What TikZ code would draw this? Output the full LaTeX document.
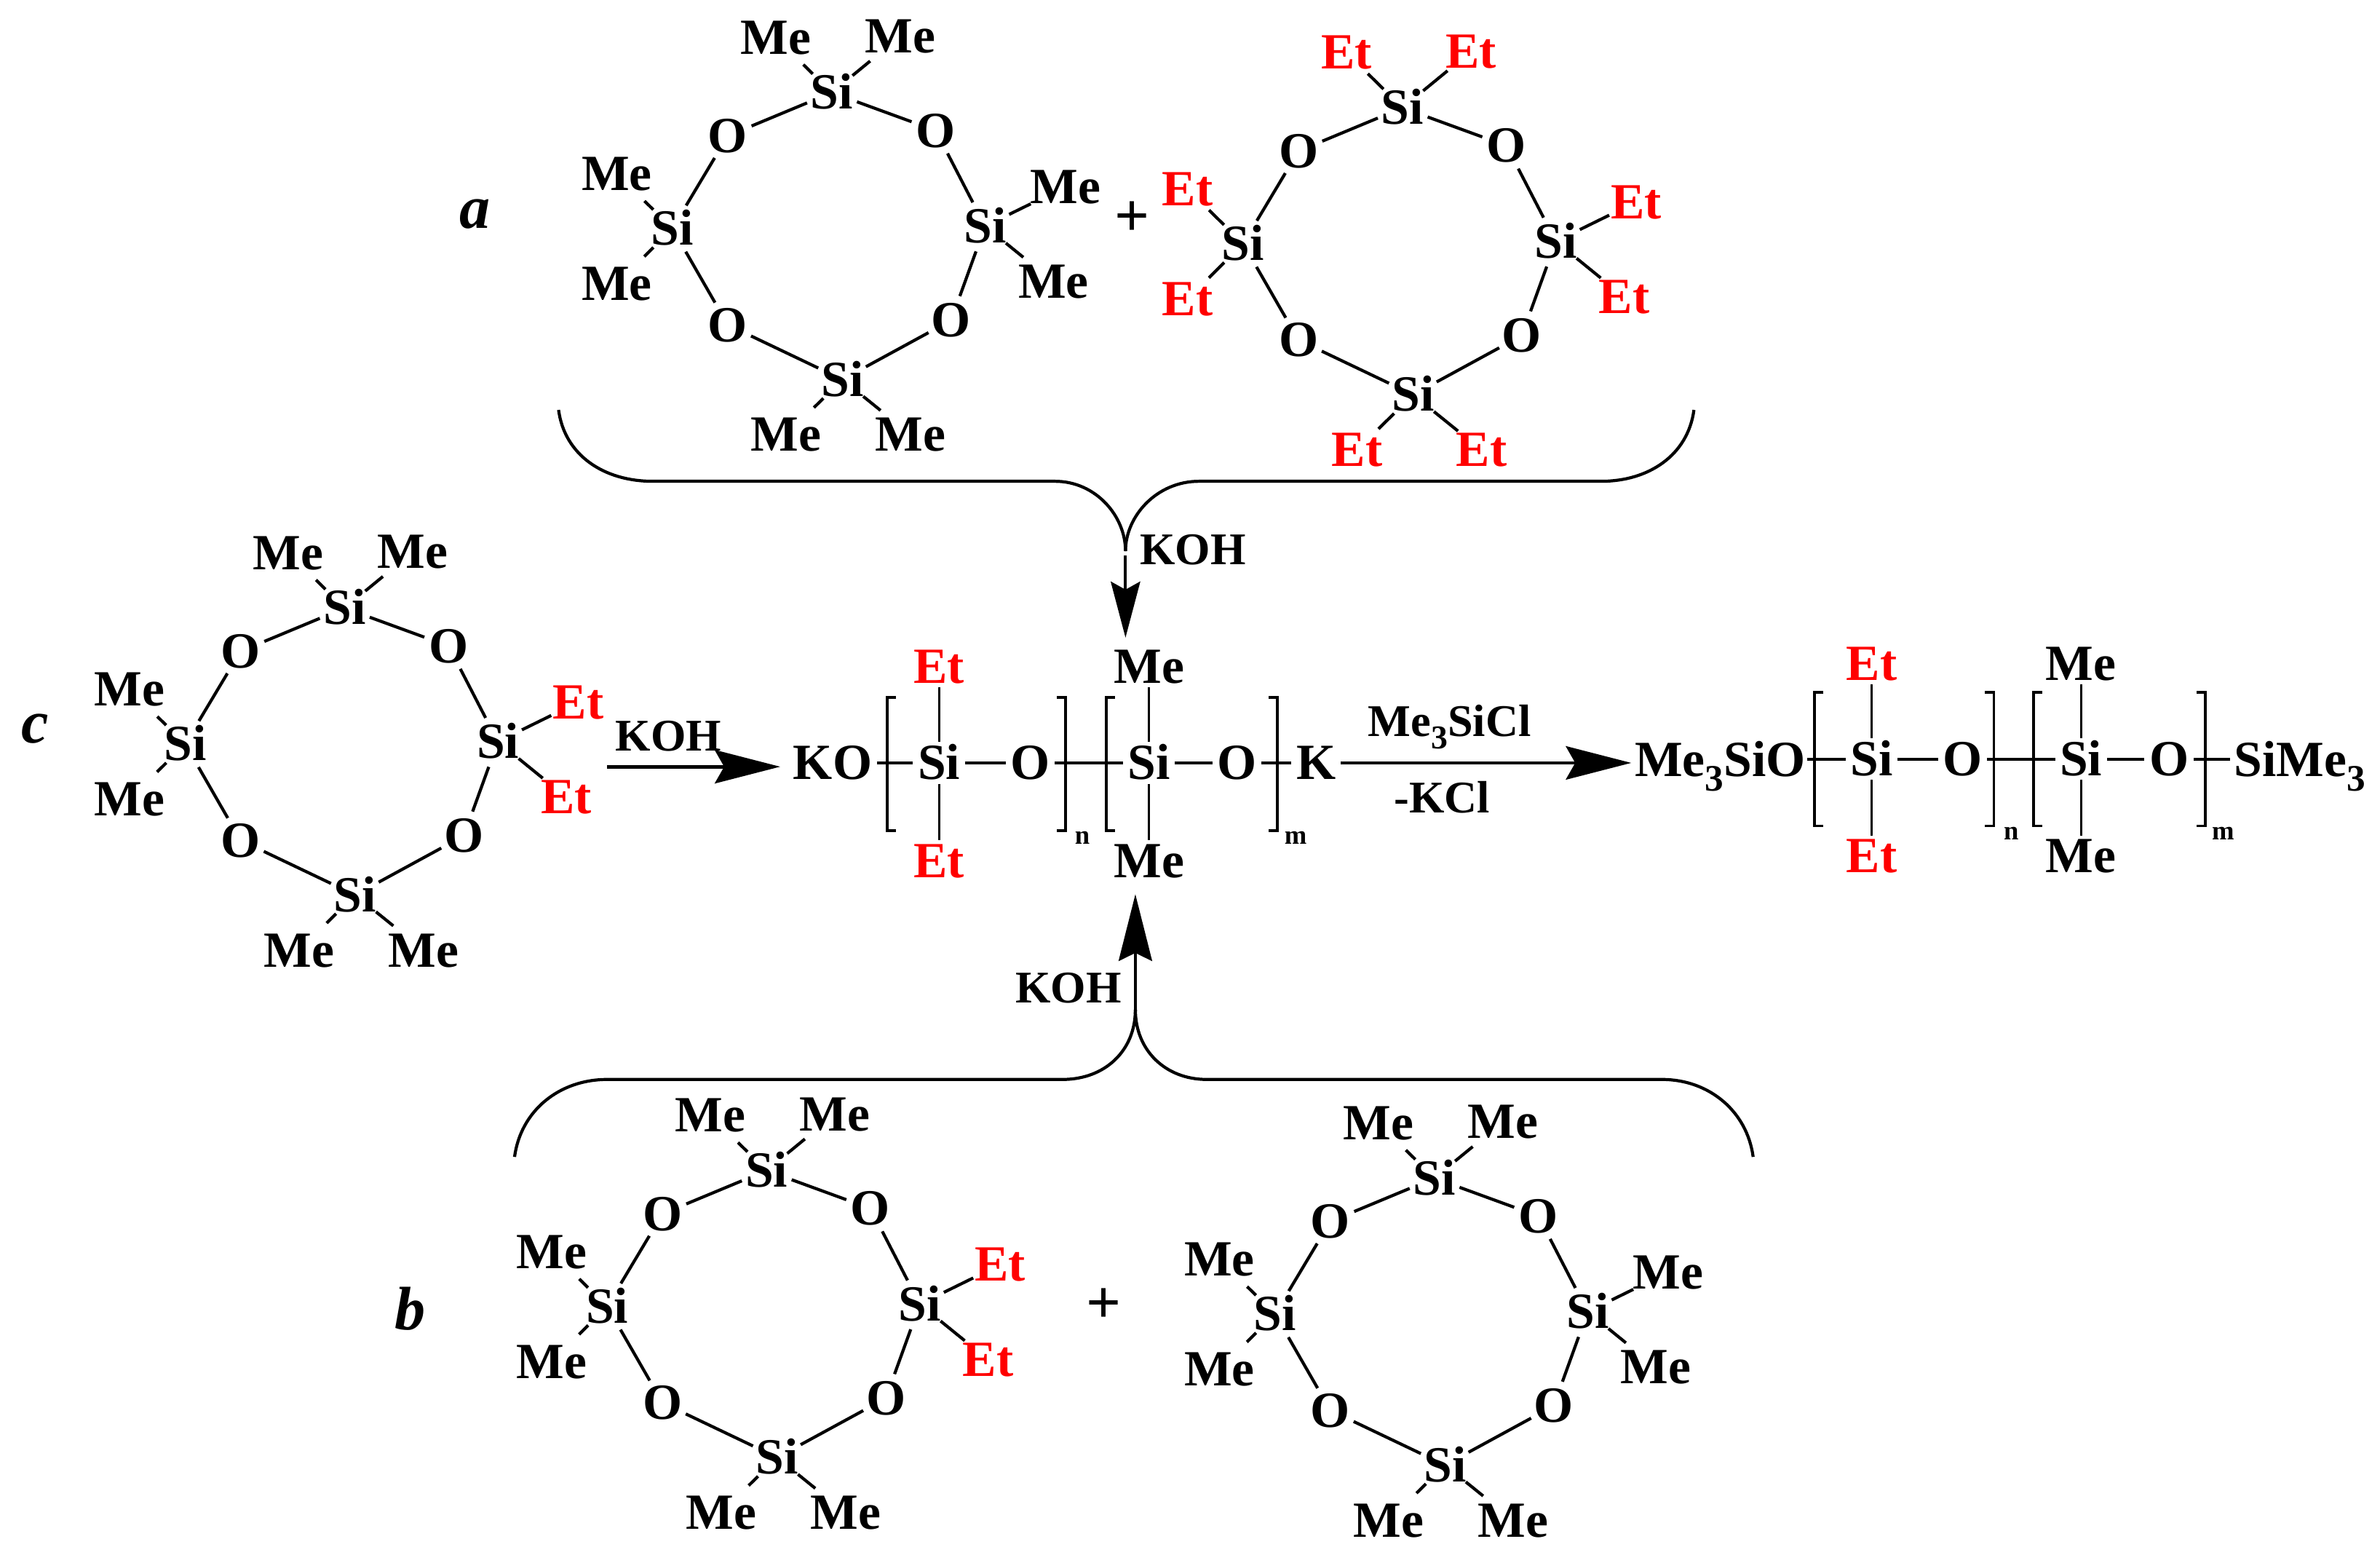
\documentclass[tikz,border=0pt]{standalone}
\usepackage{fontspec}
\setmainfont{Liberation Serif}
\usetikzlibrary{arrows.meta}
\newcommand{\Mx}{Me}
\newcommand{\Ex}{\textcolor{red}{Et}}
\newcommand{\sbb}[1]{\raisebox{-0.28em}{\fontsize{14}{14}\selectfont #1}}
\newcommand{\sbc}[1]{\raisebox{-0.28em}{\fontsize{12.5}{12.5}\selectfont #1}}
\tikzset{
  atom/.style={circle,inner sep=0pt,outer sep=0pt,font=\fontsize{19}{19}\selectfont\bfseries,text height=12.4pt,text depth=0pt},
  chain/.style={rectangle,inner xsep=1.8pt,inner ysep=1.6pt,outer sep=0pt,font=\fontsize{19}{19}\selectfont\bfseries,text height=12.4pt,text depth=0pt},
  plain/.style={inner sep=0pt,outer sep=0pt,font=\fontsize{19}{19}\selectfont\bfseries},
  reagent/.style={inner sep=0pt,outer sep=0pt,font=\fontsize{17}{17}\selectfont\bfseries},
  plussign/.style={inner sep=0pt,outer sep=0pt,font=\fontsize{23}{23}\selectfont\bfseries},
  subidx/.style={inner sep=0pt,font=\fontsize{10}{10}\selectfont\bfseries},
  panel/.style={inner sep=0pt,font=\fontsize{23}{23}\selectfont\bfseries\itshape},
  bond/.style={line width=1.15pt},
  mainbond/.style={line width=1.05pt},
  thinbond/.style={line width=0.85pt},
  bracket/.style={line width=1.05pt},
  brace/.style={line width=1.15pt},
  bigarrow/.style={line width=1.3pt,-{Stealth[length=24.5pt,width=12.5pt,inset=3.5pt]}},
  uparrow/.style={line width=1.15pt,-{Stealth[length=25pt,width=12.5pt,inset=3pt]}},
  downarrow/.style={line width=1.15pt,-{Stealth[length=21pt,width=11pt,inset=3pt]}},
}
\newcommand{\siloxring}[7]{%
\begin{scope}[shift={(#2,#3)}]
  \node[atom] (#1s1) at (548,61) {Si};
  \node[atom] (#1s2) at (649,149) {Si};
  \node[atom] (#1s3) at (555,250) {Si};
  \node[atom] (#1s4) at (443,150.5) {Si};
  \node[atom] (#1o1) at (616.5,86) {O};
  \node[atom] (#1o2) at (626.6,211) {O};
  \node[atom] (#1o3) at (479.5,214) {O};
  \node[atom] (#1o4) at (479.5,89.5) {O};
  \node[atom] (#1a) at (511,24.6) {#4};
  \node[atom] (#1b) at (593,24) {#4};
  \node[atom] (#1c) at (702,123) {#6};
  \node[atom] (#1d) at (694,185.6) {#6};
  \node[atom] (#1e) at (518,286.4) {#7};
  \node[atom] (#1f) at (600,286.4) {#7};
  \node[atom] (#1g) at (406.4,114.5) {#5};
  \node[atom] (#1h) at (406.4,187) {#5};
  \draw[bond] (#1s1)--(#1o1) (#1o1)--(#1s2) (#1s2)--(#1o2) (#1o2)--(#1s3)
              (#1s3)--(#1o3) (#1o3)--(#1s4) (#1s4)--(#1o4) (#1o4)--(#1s1);
  \draw[bond] (#1s1)--(#1a) (#1s1)--(#1b) (#1s2)--(#1c) (#1s2)--(#1d)
              (#1s3)--(#1e) (#1s3)--(#1f) (#1s4)--(#1g) (#1s4)--(#1h);
\end{scope}}
\newcommand{\bracketL}[3]{\draw[bracket] (#1+5.8,#2) -- (#1,#2) -- (#1,#3) -- (#1+5.8,#3);}
\newcommand{\bracketR}[3]{\draw[bracket] (#1-5.8,#2) -- (#1,#2) -- (#1,#3) -- (#1-5.8,#3);}
\begin{document}
\begin{tikzpicture}[x=0.02cm,y=-0.02cm]
\useasboundingbox (0,0) rectangle (1568,1024);
\fill[white] (0,0) rectangle (1568,1024);
% rings
\siloxring{ra}{0}{0}{\Mx}{\Mx}{\Mx}{\Mx}
\siloxring{rb}{376}{10}{\Ex}{\Ex}{\Ex}{\Ex}
\siloxring{rc}{-321}{339.5}{\Mx}{\Mx}{\Ex}{\Mx}
\siloxring{rd}{-43}{710}{\Mx}{\Mx}{\Ex}{\Mx}
\siloxring{re}{397}{715}{\Mx}{\Mx}{\Mx}{\Mx}
% panel labels and plus signs
\node[panel] (la) at (313,141) {a};
\node[panel] (lb) at (270,862) {b};
\node[panel] (lc) at (23,480) {c};
\node[plussign] (pa) at (746,144) {+};
\node[plussign] (pb) at (727,860) {+};
% first chain
\node[chain] (ko) at (548.6,502.5) {KO};
\node[chain] (cs1) at (618.6,502.5) {Si};
\node[chain] (co1) at (678.8,502.5) {O};
\node[chain] (cs2) at (757,502.5) {Si};
\node[chain] (co2) at (815,502.5) {O};
\node[chain] (ck) at (867,502.5) {K};
\node[chain] (cet1) at (618.6,439) {\Ex};
\node[chain] (cet2) at (618.6,567) {\Ex};
\node[chain] (cme1) at (757,439) {Me};
\node[chain] (cme2) at (757,567) {Me};
\draw[mainbond] (ko)--(cs1) (cs1)--(co1) (co1)--(cs2) (cs2)--(co2) (co2)--(ck);
\draw[thinbond] (cs1)--(cet1) (cs1)--(cet2) (cs2)--(cme1) (cs2)--(cme2);
\bracketL{584.5}{459.5}{547}
\bracketR{702}{459.5}{547}
\bracketL{728.7}{459.5}{547}
\bracketR{841.6}{459.5}{547}
\node[subidx] (n1) at (713,552) {n};
\node[subidx] (m1) at (853.6,552) {m};
% second chain
\node[plain,anchor=base west] (tm) at (1077,511.5) {Me\sbb{3}SiO};
\node[chain] (ds1) at (1233,500) {Si};
\node[chain] (do1) at (1293,500) {O};
\node[chain] (ds2) at (1371,500) {Si};
\node[chain] (do2) at (1429,500) {O};
\node[plain,anchor=base west] (sm) at (1472,511.5) {SiMe\sbb{3}};
\node[chain] (det1) at (1233,437) {\Ex};
\node[chain] (det2) at (1233,564) {\Ex};
\node[chain] (dme1) at (1371,437) {Me};
\node[chain] (dme2) at (1371,564) {Me};
\draw[mainbond] (tm.east |- ds1)++(1,0)--(ds1);
\draw[mainbond] (ds1)--(do1) (do1)--(ds2) (ds2)--(do2);
\draw[mainbond] (do2)--([xshift=-1.5pt]sm.west |- do2);
\draw[thinbond] (ds1)--(det1) (ds1)--(det2) (ds2)--(dme1) (ds2)--(dme2);
\bracketL{1195.5}{456}{544}
\bracketR{1313.6}{456}{544}
\bracketL{1339.8}{456}{544}
\bracketR{1453}{456}{544}
\node[subidx] (n2) at (1325,549) {n};
\node[subidx] (m2) at (1464.6,549) {m};
% reagent labels
\node[reagent] (k1) at (786,362) {KOH};
\node[reagent] (k2) at (704,651) {KOH};
\node[reagent] (k3) at (440.5,485) {KOH};
\node[reagent,anchor=base] (r1) at (955,485) {Me\sbc{3}SiCl};
\node[reagent] (r2) at (950,525) {-KCl};
% named ends of the connectors
\coordinate (ctop) at (741.5,363);
\coordinate (atail) at (741.5,366);
\coordinate (atip) at (741.5,420);
\coordinate (bjoin) at (748,665);
\coordinate (btip) at (748,589);
\coordinate (cfrom) at (400,505);
\coordinate (cto) at (514,505);
\coordinate (dto) at (1074.7,502.5);
% top brace
\draw[brace] (368,270) .. controls (372,300) and (398,317) .. (430,317) -- (695,317) .. controls (722,317) and (741.5,340) .. (ctop);
\draw[brace] (1116,270) .. controls (1112,300) and (1086,317) .. (1055,317) -- (790,317) .. controls (762,317) and (741.5,340) .. (ctop);
\draw[downarrow] (atail) -- (atip);
% bottom brace
\draw[brace] (339,762) .. controls (343,732) and (368,711) .. (400,711) -- (700,711) .. controls (728,711) and (748,692) .. (bjoin);
\draw[brace] (1155,762) .. controls (1151,732) and (1126,711) .. (1095,711) -- (795,711) .. controls (768,711) and (748,692) .. (bjoin);
\draw[uparrow] (bjoin) -- (btip);
% horizontal arrows
\draw[bigarrow] (cfrom) -- (cto);
\draw[bigarrow] (ck) -- (dto);
\end{tikzpicture}
\end{document}
